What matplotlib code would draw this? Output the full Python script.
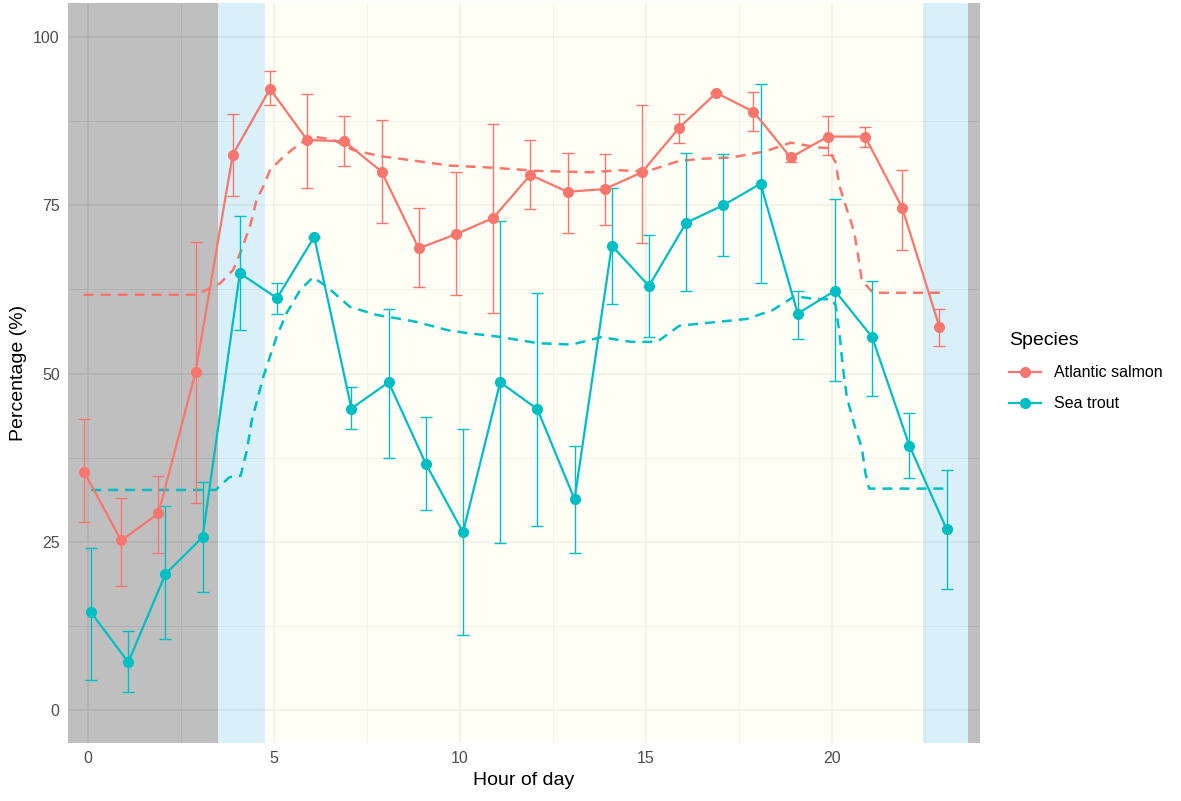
import numpy as np
import matplotlib
matplotlib.use("Agg")
import matplotlib.pyplot as plt
from matplotlib.lines import Line2D

plt.rcParams['font.family'] = ['Liberation Sans', 'DejaVu Sans']

# hourly means and error bar limits
hours = np.arange(24)

salmon_mean = [35.4, 25.2, 29.2, 50.2, 82.5, 92.3, 84.7, 84.5, 80.0, 68.6, 70.7, 73.1,
               79.5, 77.0, 77.4, 79.9, 86.5, 91.7, 88.9, 82.1, 85.2, 85.2, 74.6, 56.9]
salmon_hi = [43.2, 31.5, 34.8, 69.6, 88.6, 94.9, 91.5, 88.2, 87.6, 74.6, 80.0, 87.1,
             84.7, 82.8, 82.6, 89.9, 88.6, 91.9, 91.8, 82.6, 88.2, 86.6, 80.2, 59.6]
salmon_lo = [27.9, 18.4, 23.3, 30.7, 76.3, 89.9, 77.6, 80.8, 72.3, 62.8, 61.6, 59.0,
             74.4, 70.9, 72.1, 69.4, 84.3, 91.5, 86.0, 81.4, 82.5, 83.6, 68.4, 54.1]

trout_mean = [14.5, 7.1, 20.2, 25.7, 64.9, 61.2, 70.3, 44.8, 48.7, 36.6, 26.4, 48.7,
              44.7, 31.3, 69.0, 63.0, 72.4, 75.0, 78.2, 58.9, 62.3, 55.4, 39.3, 26.9]
trout_hi = [24.1, 11.7, 30.3, 33.9, 73.4, 63.5, 70.5, 48.0, 59.6, 43.5, 41.7, 72.7,
            62.0, 39.3, 77.6, 70.6, 82.8, 82.6, 93.0, 62.2, 75.9, 63.7, 44.2, 35.6]
trout_lo = [4.5, 2.7, 10.6, 17.5, 56.4, 58.9, 70.1, 41.7, 37.4, 29.7, 11.2, 24.8,
            27.3, 23.3, 60.3, 55.4, 62.3, 67.4, 63.5, 55.2, 48.9, 46.7, 34.4, 18.0]

# model curves (dashed)
salmon_fit_x = [-0.12, 2.9, 3.55, 3.9, 4.09, 4.35, 4.53, 4.71, 4.89, 5.25, 5.7, 6.06, 6.6,
                7.13, 7.85, 8.8, 9.7, 10.8, 12.1, 13.5, 14.3, 15.0, 15.9, 16.5, 17.3,
                18.2, 18.9, 19.6, 19.9, 20.1, 20.2, 20.4, 20.6, 20.7, 20.8, 21.1, 22.9]
salmon_fit_y = [61.7, 61.7, 63.4, 65.4, 67.9, 71.8, 75.8, 77.8, 80.2, 82.2, 84.2, 85.2, 84.7,
                83.2, 82.3, 81.6, 80.9, 80.6, 80.1, 79.9, 80.2, 80.0, 81.6, 81.9, 82.1,
                83.0, 84.3, 83.6, 83.5, 81.3, 77.9, 74.4, 71.0, 67.6, 63.9, 62.0, 62.0]
trout_fit_x = [0.08, 3.43, 3.8, 4.1, 4.27, 4.4, 4.71, 5.07, 5.34, 5.7, 6.05, 6.42, 7.04,
               7.76, 8.3, 8.8, 9.7, 10.2, 11.0, 12.1, 13.0, 13.8, 14.6, 15.3, 15.9, 16.8,
               17.7, 18.4, 19.0, 19.5, 20.0, 20.1, 20.2, 20.3, 20.4, 20.6, 20.8, 20.9,
               21.0, 23.08]
trout_fit_y = [32.7, 32.7, 34.6, 34.8, 38.6, 43.0, 49.5, 55.5, 59.0, 62.4, 64.3, 62.9, 59.9,
               58.7, 58.2, 57.7, 56.4, 56.0, 55.5, 54.5, 54.3, 55.4, 54.7, 54.7, 57.1, 57.6,
               58.1, 59.4, 61.5, 61.1, 61.0, 60.1, 56.0, 50.6, 46.5, 42.4, 39.0, 35.2,
               32.9, 32.9]

# light periods: night, twilight, day, twilight, night
period_edges = [-0.54, 3.5, 4.76, 22.46, 23.66, 23.98]
period_cols = ['black', 'skyblue', 'lightyellow', 'skyblue', 'black']
period_alpha = [0.25, 0.3, 0.3, 0.3, 0.25]

red = '#F8766D'
teal = '#00BFC4'

fig = plt.figure(figsize=(11.81, 8.01), dpi=100)
ax = fig.add_axes([68/1181, 1 - 743/801, (980-68)/1181, (743-3)/801])

for i in range(len(period_cols)):
    ax.axvspan(period_edges[i], period_edges[i+1], color=period_cols[i],
               alpha=period_alpha[i], lw=0, zorder=1)

xs = hours - 0.11
xt = hours + 0.08

sm = np.array(salmon_mean)
tm = np.array(trout_mean)
s_err = [sm - np.array(salmon_lo), np.array(salmon_hi) - sm]
t_err = [tm - np.array(trout_lo), np.array(trout_hi) - tm]

ax.plot(salmon_fit_x, salmon_fit_y, '--', color=red, lw=1.8, dashes=(4, 2.8), zorder=3)
ax.plot(trout_fit_x, trout_fit_y, '--', color=teal, lw=1.8, dashes=(4, 2.8), zorder=3)

ax.errorbar(xs, sm, yerr=s_err, fmt='none', ecolor=red, elinewidth=1.0,
            capsize=4.2, capthick=1.0, zorder=4)
ax.errorbar(xt, tm, yerr=t_err, fmt='none', ecolor=teal, elinewidth=1.0,
            capsize=4.2, capthick=1.0, zorder=4)
ax.plot(xs, sm, '-o', color=red, lw=1.6, ms=7, zorder=5)
ax.plot(xt, tm, '-o', color=teal, lw=1.6, ms=7, zorder=5)

ax.set_xlim(-0.54, 23.98)
ax.set_ylim(-4.9, 105.05)
ax.set_xticks([0, 5, 10, 15, 20])
ax.set_xticks([2.5, 7.5, 12.5, 17.5, 22.5], minor=True)
ax.set_yticks([0, 25, 50, 75, 100])
ax.set_yticks([12.5, 37.5, 62.5, 87.5], minor=True)
ax.set_axisbelow(True)
ax.grid(which='major', color='#EBEBEB', lw=1.1, zorder=0)
ax.grid(which='minor', color='#EBEBEB', lw=0.6, zorder=0)
for s in ax.spines.values():
    s.set_visible(False)
ax.tick_params(which='both', length=0, labelsize=11.5, labelcolor='#4D4D4D', pad=6)
ax.set_xlabel('Hour of day', fontsize=14, labelpad=4)
ax.set_ylabel('Percentage (%)', fontsize=14, labelpad=4)

handles = [Line2D([], [], color=red, marker='o', lw=1.6, ms=7),
           Line2D([], [], color=teal, marker='o', lw=1.6, ms=7)]
leg = fig.legend(handles, ['Atlantic salmon', 'Sea trout'], title='Species',
                 loc='upper left', bbox_to_anchor=(995/1181, 1 - 318/801),
                 frameon=False, fontsize=11.5, title_fontsize=14,
                 handlelength=2.0, labelspacing=1.0)
leg._legend_box.align = 'left'

fig.savefig('out.png', dpi=100)
